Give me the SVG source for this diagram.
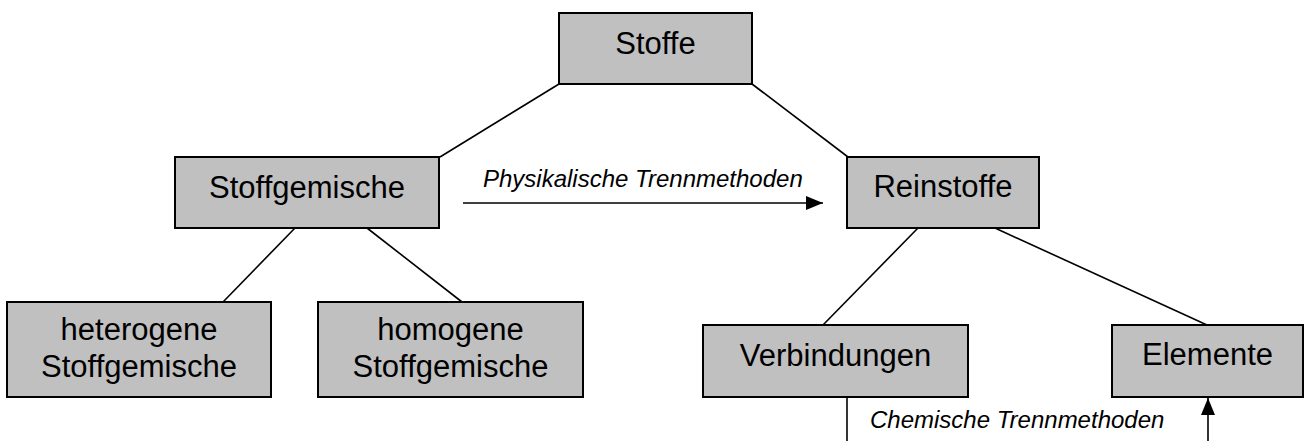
<svg xmlns="http://www.w3.org/2000/svg" width="1304" height="441" viewBox="0 0 1304 441">
<style>
.box{fill:#c0c0c0;stroke:#000;stroke-width:2}
.t{font-family:"Liberation Sans",Arial,sans-serif;font-size:31px;fill:#000;text-anchor:middle}
.lab{font-family:"Liberation Sans",Arial,sans-serif;font-size:24px;font-style:italic;fill:#000}
.c{stroke:#000;stroke-width:1.6;fill:none}
</style>
<defs>
<marker id="ah" markerWidth="17" markerHeight="14" refX="17" refY="7" orient="auto" markerUnits="userSpaceOnUse">
<path d="M0,0 L17,7 L0,14 Z" fill="#000"/>
</marker>
</defs>
<rect width="1304" height="441" fill="#fff"/>
<g id="connectors">
<line class="c" x1="559" y1="84" x2="440" y2="157"/>
<line class="c" x1="752" y1="84" x2="848" y2="157"/>
<line class="c" x1="295" y1="228" x2="223" y2="302"/>
<line class="c" x1="367" y1="228" x2="462" y2="302"/>
<line class="c" x1="918" y1="228" x2="823" y2="325"/>
<line class="c" x1="995" y1="228" x2="1207" y2="325"/>
<line class="c" x1="463" y1="203" x2="823" y2="203" marker-end="url(#ah)"/>
<text class="lab" x="483" y="187">Physikalische Trennmethoden</text>
<line class="c" x1="847" y1="397" x2="847" y2="441"/>
<line class="c" x1="1208" y1="441" x2="1208" y2="398" marker-end="url(#ah)"/>
<text class="lab" x="870" y="428">Chemische Trennmethoden</text>
</g>
<g id="stoffe"><rect class="box" x="559" y="13" width="193" height="71"/><text class="t" x="655.5" y="54">Stoffe</text></g>
<g id="stoffgemische"><rect class="box" x="175" y="157" width="264" height="71"/><text class="t" x="307" y="198">Stoffgemische</text></g>
<g id="reinstoffe"><rect class="box" x="847" y="157" width="192" height="71"/><text class="t" x="943" y="197">Reinstoffe</text></g>
<g id="heterogene"><rect class="box" x="7" y="302" width="264" height="95"/><text class="t" x="139" y="340">heterogene</text><text class="t" x="139" y="377">Stoffgemische</text></g>
<g id="homogene"><rect class="box" x="318" y="302" width="265" height="95"/><text class="t" x="450.5" y="340">homogene</text><text class="t" x="450.5" y="377">Stoffgemische</text></g>
<g id="verbindungen"><rect class="box" x="703" y="325" width="265" height="72"/><text class="t" x="835.5" y="366">Verbindungen</text></g>
<g id="elemente"><rect class="box" x="1112" y="325" width="191" height="72"/><text class="t" x="1207.5" y="365">Elemente</text></g>
</svg>
